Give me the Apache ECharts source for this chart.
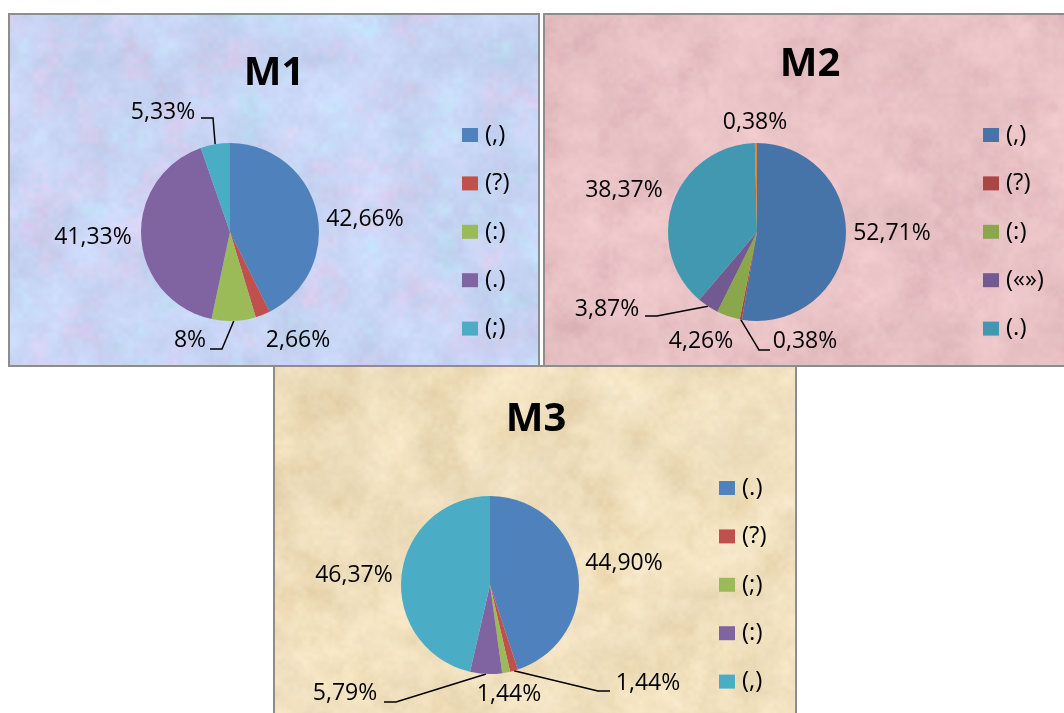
<!DOCTYPE html>
<html>
<head>
<meta charset="utf-8">
<script src="https://cdn.jsdelivr.net/npm/echarts@6/dist/echarts.min.js"></script>
<style>
  html, body { margin: 0; padding: 0; background: #ffffff; }
  #wrap { position: relative; width: 1064px; height: 713px; overflow: hidden; background: #ffffff; }
  .panel { position: absolute; box-sizing: border-box; border: 2px solid #8d8d8d; background-size: 100% 100%; }
  #p1 { left: 8px; top: 13px; width: 532px; height: 354px; }
  #p2 { left: 543px; top: 13px; width: 530px; height: 354px; }
  #p3 { left: 273px; top: 365px; width: 524px; height: 360px; }
  #chart { position: absolute; left: 0; top: 0; width: 1064px; height: 713px; }
</style>
</head>
<body>
<div id="wrap">
  <div class="panel" id="p1"></div>
  <div class="panel" id="p2"></div>
  <div class="panel" id="p3"></div>
  <div id="chart"></div>
</div>
<script>
// ---- data ----
const m1Names  = ['(,)', '(?)', '(:)', '(.)', '(;)'];
const m1Values = [42.66, 2.66, 8, 41.33, 5.33];

const m2Names  = ['(,)', '(?)', '(:)', '(«»)', '(.)', '(!)'];
const m2Values = [52.71, 0.38, 4.26, 3.87, 38.37, 0.38];
const m2Legend = ['(,)', '(?)', '(:)', '(«»)', '(.)'];

const m3Names  = ['(.)', '(?)', '(;)', '(:)', '(,)'];
const m3Values = [44.90, 1.44, 1.44, 5.79, 46.37];

const titles = ['M1', 'M2', 'M3'];

// ---- palettes ----
const m1Colors = ['#4F81BD', '#C0504D', '#9BBB59', '#8064A2', '#4BACC6'];
const m2Colors = ['#4674A8', '#AA4644', '#8AA74C', '#725A91', '#4298B0', '#E6852F'];
const m3Colors = ['#4F81BD', '#C0504D', '#9BBB59', '#8064A2', '#4BACC6'];

// ---- mottled panel backgrounds (deterministic value noise) ----
function hash(x, y, s) {
  const v = Math.sin(x * 127.1 + y * 311.7 + s * 74.7) * 43758.5453;
  return v - Math.floor(v);
}
function vnoise(x, y, s) {
  const ix = Math.floor(x), iy = Math.floor(y);
  const fx = x - ix, fy = y - iy;
  const ux = fx * fx * (3 - 2 * fx), uy = fy * fy * (3 - 2 * fy);
  const a = hash(ix, iy, s), b = hash(ix + 1, iy, s), c = hash(ix, iy + 1, s), d = hash(ix + 1, iy + 1, s);
  return a + (b - a) * ux + (c - a) * uy + (a - b - c + d) * ux * uy;
}
function fbm(x, y, s) {
  return 0.5 * vnoise(x / 40, y / 40, s) + 0.3 * vnoise(x / 15, y / 15, s + 1) + 0.2 * vnoise(x / 5, y / 5, s + 2);
}
function texture(w, h, paint) {
  const cv = document.createElement('canvas');
  cv.width = w; cv.height = h;
  const ctx = cv.getContext('2d');
  const img = ctx.createImageData(w, h);
  for (let y = 0; y < h; y++) {
    for (let x = 0; x < w; x++) {
      const c = paint(x, y);
      const i = (y * w + x) * 4;
      img.data[i] = c[0]; img.data[i + 1] = c[1]; img.data[i + 2] = c[2]; img.data[i + 3] = 255;
    }
  }
  ctx.putImageData(img, 0, 0);
  return cv.toDataURL();
}
function mix(a, b, t) { return [a[0] + (b[0] - a[0]) * t, a[1] + (b[1] - a[1]) * t, a[2] + (b[2] - a[2]) * t]; }
function shade(c, d) { return [c[0] + d, c[1] + d, c[2] + d]; }

const bg1 = texture(528, 350, function (x, y) {
  const n1 = fbm(x, y, 1), n2 = fbm(x, y, 7);
  let c = [200, 212, 243];
  if (n2 > 0.56) c = mix(c, [222, 204, 238], Math.min(1, (n2 - 0.56) * 2.8));
  else if (n2 < 0.46) c = mix(c, [190, 226, 247], Math.min(1, (0.46 - n2) * 2.8));
  return shade(c, (n1 - 0.5) * 28);
});
const bg2 = texture(526, 350, function (x, y) {
  const n1 = fbm(x, y, 3), n2 = fbm(x * 1.3, y * 1.3, 11);
  let c = [233, 194, 198];
  c = mix(c, [220, 176, 181], Math.max(0, (0.5 - n2) * 1.6));
  return shade(c, (n1 - 0.5) * 26);
});
const bg3 = texture(520, 356, function (x, y) {
  const n1 = fbm(x, y, 5), n2 = fbm(x * 1.2, y * 1.2, 13);
  let c = [240, 224, 190];
  c = mix(c, [228, 206, 162], Math.max(0, (0.5 - n2) * 1.6));
  c = mix(c, [248, 236, 210], Math.max(0, (n2 - 0.55) * 1.8));
  return shade(c, (n1 - 0.5) * 24);
});
document.getElementById('p1').style.backgroundImage = 'url(' + bg1 + ')';
document.getElementById('p2').style.backgroundImage = 'url(' + bg2 + ')';
document.getElementById('p3').style.backgroundImage = 'url(' + bg3 + ')';

// ---- chart ----
const FONT = '"Open Sans", "Noto Sans", sans-serif';

// label placement per slice: label centre, optional leader elbow points
const layout1 = [
  { x: 365, y: 219 },
  { x: 298, y: 340 },
  { x: 190, y: 340, line: [[222, 349], [210, 349]] },
  { x: 93,  y: 237 },
  { x: 163, y: 112, line: [[213, 118], [201, 118]] }
];
const layout2 = [
  { x: 892, y: 233 },
  { x: 805, y: 341, line: [[759, 350], [770, 350]] },
  { x: 701, y: 341 },
  { x: 607, y: 309, line: [[657, 316], [645, 316]] },
  { x: 624, y: 190 },
  { x: 755, y: 122 }
];
const layout3 = [
  { x: 624, y: 563 },
  { x: 648, y: 683, line: [[598, 691], [610, 691]] },
  { x: 509, y: 694 },
  { x: 345, y: 693, line: [[396, 702], [384, 702]] },
  { x: 354, y: 575 }
];

function fmtComma(v, fixed) {
  const s = fixed ? v.toFixed(2) : String(v);
  return s.replace('.', ',') + '%';
}

function pieSeries(names, values, colors, center, layout, fixed) {
  return {
    type: 'pie',
    center: center,
    radius: 89,
    startAngle: 90,
    clockwise: true,
    avoidLabelOverlap: false,
    silent: true,
    data: names.map(function (n, i) {
      return {
        name: n,
        value: values[i],
        itemStyle: { color: colors[i] },
        labelLine: { show: !!layout[i].line }
      };
    }),
    label: {
      show: true,
      position: 'outside',
      color: '#000',
      fontFamily: FONT,
      fontSize: 23,
      formatter: function (p) { return fmtComma(p.value, fixed); }
    },
    labelLine: {
      show: true,
      length: 10,
      length2: 10,
      lineStyle: { color: '#000', width: 1.5 }
    },
    labelLayout: function (p) {
      const L = layout[p.dataIndex];
      const out = { x: L.x, y: L.y, align: 'center', verticalAlign: 'middle' };
      if (L.line && p.labelLinePoints) {
        out.labelLinePoints = [p.labelLinePoints[0]].concat(L.line);
      }
      return out;
    }
  };
}

function legendFor(names, colors, left, top) {
  return {
    orient: 'vertical',
    left: left,
    top: top,
    padding: 0,
    icon: 'rect',
    itemWidth: 16,
    itemHeight: 14,
    itemGap: 24.4,
    selectedMode: false,
    textStyle: { color: '#000', fontFamily: FONT, fontSize: 24, lineHeight: 24, padding: [0, 0, 0, 2] },
    data: names.map(function (n, i) { return { name: n, itemStyle: { color: colors[i] } }; })
  };
}

function titleText(text, x, y) {
  return {
    type: 'text',
    x: x,
    y: y,
    silent: true,
    style: {
      text: text,
      fill: '#000',
      fontFamily: FONT,
      fontWeight: 'bold',
      fontSize: 40,
      align: 'center',
      verticalAlign: 'middle'
    }
  };
}

const chart = echarts.init(document.getElementById('chart'), null, { renderer: 'canvas' });
chart.setOption({
  backgroundColor: 'transparent',
  animation: false,
  graphic: [
    titleText(titles[0], 274, 74),
    titleText(titles[1], 810, 65),
    titleText(titles[2], 536, 420)
  ],
  legend: [
    legendFor(m1Names, m1Colors, 462, 123),
    legendFor(m2Legend, m2Colors, 983, 123),
    legendFor(m3Names, m3Colors, 719, 476)
  ],
  series: [
    pieSeries(m1Names, m1Values, m1Colors, [230, 232], layout1, false),
    pieSeries(m2Names, m2Values, m2Colors, [757, 232], layout2, false),
    pieSeries(m3Names, m3Values, m3Colors, [490, 585], layout3, true)
  ]
});
</script>
</body>
</html>
